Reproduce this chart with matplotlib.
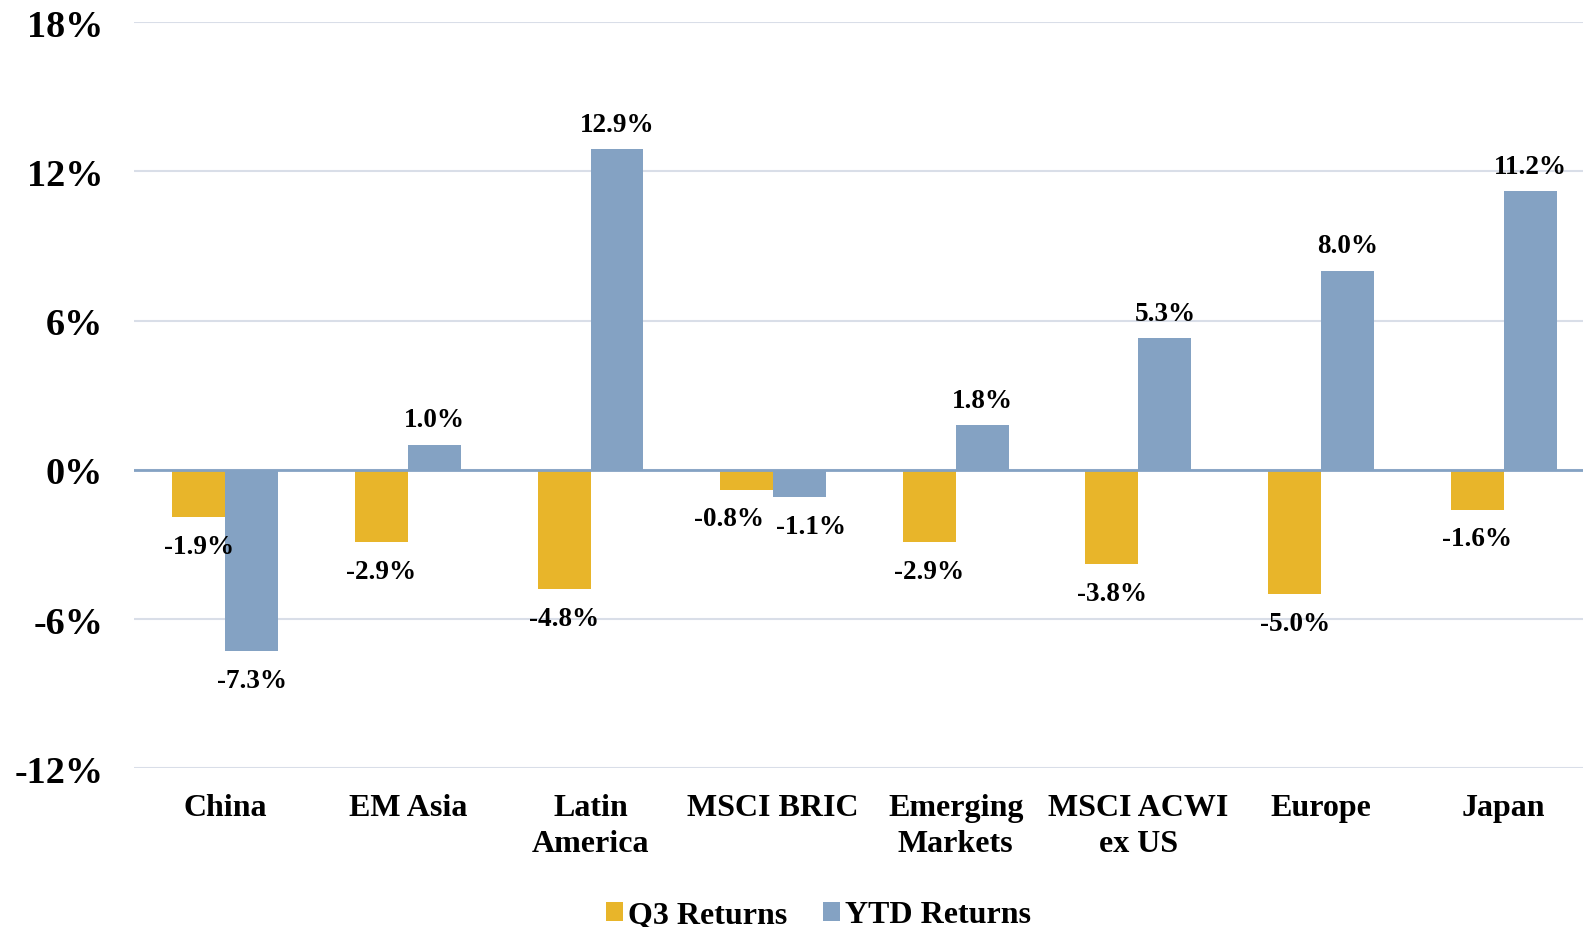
import matplotlib.pyplot as plt
import numpy as np

# Regional returns, in percent
regions = ['China', 'EM Asia', 'Latin\nAmerica', 'MSCI BRIC', 'Emerging\nMarkets',
           'MSCI ACWI\nex US', 'Europe', 'Japan']
q3_returns = [-1.9, -2.9, -4.8, -0.8, -2.9, -3.8, -5.0, -1.6]
ytd_returns = [-7.3, 1.0, 12.9, -1.1, 1.8, 5.3, 8.0, 11.2]
y_ticks = [-12, -6, 0, 6, 12, 18]

q3_color = '#E8B52A'
ytd_color = '#84A2C3'

plt.rcParams['font.family'] = ['Liberation Serif', 'DejaVu Serif']
plt.rcParams['font.weight'] = 'bold'

fig = plt.figure(figsize=(15.83, 9.28), dpi=100)
ax = fig.add_axes([0.0846, 0.171, 0.923, 0.804])

x = np.arange(len(regions))
w = 0.29
bars_q3 = ax.bar(x - w / 2, q3_returns, w, color=q3_color, label='Q3 Returns', zorder=2)
bars_ytd = ax.bar(x + w / 2, ytd_returns, w, color=ytd_color, label='YTD Returns', zorder=2)

# the two BRIC labels sit side by side, push them apart a little
nudge = {(0, 3): -13, (1, 3): 8}

# value labels above positive bars, below negative ones
for k, (bars, vals) in enumerate([(bars_q3, q3_returns), (bars_ytd, ytd_returns)]):
    for i, (b, v) in enumerate(zip(bars, vals)):
        off = 18 if v >= 0 else -21
        ax.annotate(f'{v:.1f}%', (b.get_x() + b.get_width() / 2, v),
                    xytext=(nudge.get((k, i), 0), off), textcoords='offset points',
                    ha='center', va='center', fontsize=19.5, fontweight='bold')

ax.set_xlim(-0.5, len(regions) - 0.5)
ax.set_ylim(-12, 18)
ax.set_yticks(y_ticks)
ax.set_yticklabels([f'{t}%' for t in y_ticks], fontsize=27.5, fontweight='bold')
ax.set_xticks(x)
ax.set_xticklabels(regions, fontsize=23, fontweight='bold', linespacing=1.3)
ax.tick_params(axis='both', length=0)
ax.tick_params(axis='y', pad=22)
ax.tick_params(axis='x', pad=18)

ax.grid(axis='y', color='#D9DEE8', linewidth=1.5, zorder=0)
ax.axhline(0, color='#84A2C3', linewidth=2, zorder=3)
for s in ax.spines.values():
    s.set_visible(False)

fig.legend(loc='center', bbox_to_anchor=(0.517, 0.013), ncol=2, frameon=False,
           handlelength=0.55, handleheight=0.55, handletextpad=0.15,
           columnspacing=1.1, prop={'weight': 'bold', 'size': 23})

fig.savefig('out.png', dpi=100)
